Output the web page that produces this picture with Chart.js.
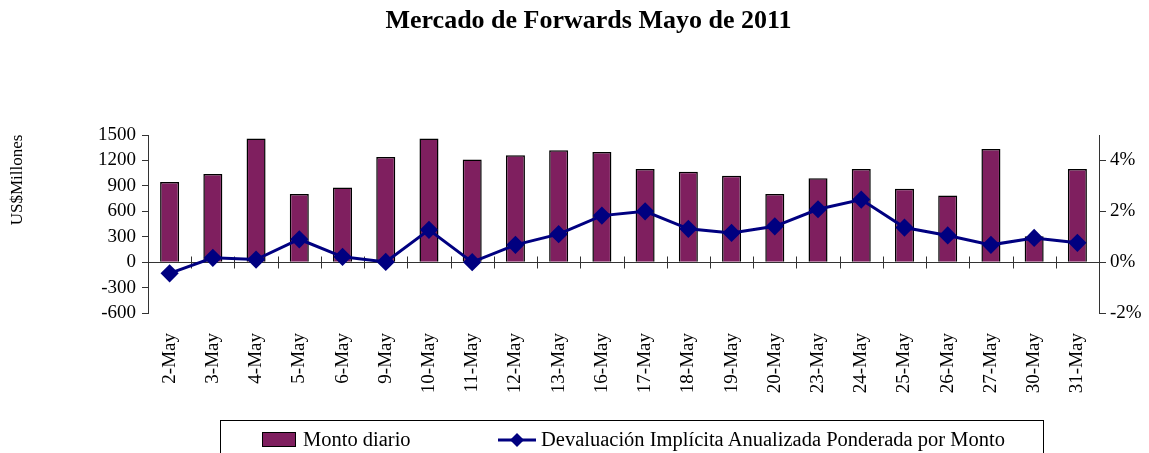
<!DOCTYPE html>
<html>
<head>
<meta charset="utf-8">
<script src="https://cdn.jsdelivr.net/npm/chart.js@4.4.1/dist/chart.umd.min.js"></script>
<style>
  html, body { margin: 0; padding: 0; background: #fff; overflow: hidden; }
  #wrap { position: relative; width: 1149px; height: 453px; }
  #title {
    position: absolute; left: 0; top: 5px; width: 1177px; text-align: center;
    font-family: 'Liberation Serif', serif; font-size: 26px; font-weight: bold; color: #000;
  }
  #ytitle {
    position: absolute; left: -43px; top: 170px; width: 120px; height: 20px; line-height: 20px;
    text-align: center; transform: rotate(-90deg);
    font-family: 'Liberation Serif', serif; font-size: 17px; color: #000; white-space: nowrap;
  }
  #legend {
    position: absolute; left: 220px; top: 420px; width: 824px; height: 50px;
    border: 1px solid #000; box-sizing: border-box;
    font-family: 'Liberation Serif', serif; font-size: 20.5px; color: #000;
  }
  #legend .item { position: absolute; top: 7px; white-space: nowrap; }
  #legend .swatch { display: inline-block; width: 32px; height: 13px; background: #7f1f5f; border: 1px solid #000; vertical-align: -1px; margin-right: 7px; }
  #legend canvas { vertical-align: -3px; margin-right: 4px; }
</style>
</head>
<body>
<div id="wrap">
  <canvas id="chart" width="1149" height="453"></canvas>
  <div id="title">Mercado de Forwards Mayo de 2011</div>
  <div id="ytitle">US$Millones</div>
  <div id="legend"></div>
</div>
<script>
const categories = ['2-May', '3-May', '4-May', '5-May', '6-May', '9-May', '10-May', '11-May',
  '12-May', '13-May', '16-May', '17-May', '18-May', '19-May', '20-May', '23-May', '24-May',
  '25-May', '26-May', '27-May', '30-May', '31-May'];

// US$ millones
const montoDiario = [945, 1040, 1460, 805, 880, 1240, 1460, 1210, 1260, 1320, 1300, 1100,
  1065, 1020, 805, 990, 1100, 865, 785, 1335, 305, 1100];

// % anualizada
const devaluacion = [-0.44, 0.17, 0.10, 0.90, 0.21, 0.01, 1.27, 0.0, 0.68, 1.10, 1.83, 2.00,
  1.31, 1.15, 1.41, 2.08, 2.46, 1.36, 1.05, 0.68, 0.95, 0.76];

const leftTicks = [-600, -300, 0, 300, 600, 900, 1200, 1500];
const rightTicks = [-2, 0, 2, 4];

const serif = 'Liberation Serif';
const barColor = '#7f1f5f';
const lineColor = '#000080';

// category axis drawn at the zero line, with ticks between categories
const zeroAxis = {
  id: 'zeroAxis',
  beforeDatasetsDraw(chart) {
    const { ctx, scales } = chart;
    const x = scales.x, y = scales.yUsd;
    const y0 = Math.round(y.getPixelForValue(0)) + 0.5;
    ctx.save();
    ctx.strokeStyle = '#333';
    ctx.lineWidth = 1;
    ctx.beginPath();
    ctx.moveTo(x.left, y0);
    ctx.lineTo(x.right, y0);
    for (let i = 1; i < categories.length; i++) {
      const px = Math.round(x.getPixelForValue(i - 0.5)) + 0.5;
      ctx.moveTo(px, y0 - 6);
      ctx.lineTo(px, y0 + 6);
    }
    ctx.stroke();
    ctx.restore();
  }
};

new Chart(document.getElementById('chart'), {
  data: {
    labels: categories,
    datasets: [
      {
        type: 'line',
        label: 'Devaluación Implícita Anualizada Ponderada por Monto',
        data: devaluacion,
        yAxisID: 'yPct',
        borderColor: lineColor,
        backgroundColor: lineColor,
        borderWidth: 3,
        pointStyle: 'rectRot',
        pointRadius: 7,
        tension: 0,
        order: 0
      },
      {
        type: 'bar',
        label: 'Monto diario',
        data: montoDiario,
        yAxisID: 'yUsd',
        backgroundColor: barColor,
        borderColor: '#000',
        borderWidth: 1.5,
        barPercentage: 0.44,
        categoryPercentage: 1,
        order: 1
      }
    ]
  },
  options: {
    responsive: false,
    animation: false,
    layout: { padding: { left: 0, right: 0, top: 135, bottom: 50 } },
    plugins: {
      legend: { display: false },
      tooltip: { enabled: false },
      title: { display: false }
    },
    scales: {
      x: {
        offset: true,
        grid: { display: false },
        border: { display: false },
        ticks: {
          autoSkip: false, minRotation: 90, maxRotation: 90, padding: 12,
          color: '#000', font: { family: serif, size: 19 }
        },
        afterFit(s) { s.height = 90; }
      },
      yUsd: {
        position: 'left',
        min: -600, max: 1500,
        afterBuildTicks(s) { s.ticks = leftTicks.map(v => ({ value: v })); },
        grid: { drawOnChartArea: false, tickLength: 6, color: '#333' },
        border: { color: '#333' },
        ticks: { autoSkip: false, color: '#000', padding: 6, font: { family: serif, size: 19 }, callback: v => String(v) },
        afterFit(s) { s.width = 148; }
      },
      yPct: {
        position: 'right',
        min: -2, max: 5,
        afterBuildTicks(s) { s.ticks = rightTicks.map(v => ({ value: v })); },
        grid: { drawOnChartArea: false, tickLength: 7, color: '#333' },
        border: { color: '#333' },
        ticks: { autoSkip: false, color: '#000', padding: 4, font: { family: serif, size: 19 }, callback: v => v + '%' },
        afterFit(s) { s.width = 50; }
      }
    }
  },
  plugins: [zeroAxis]
});

// legend
const legend = document.getElementById('legend');
legend.innerHTML =
  '<span class="item" style="left:41px"><span class="swatch"></span>Monto diario</span>' +
  '<span class="item" style="left:276px"><canvas id="lg" width="40" height="18"></canvas>Devaluación Implícita Anualizada Ponderada por Monto</span>';
const lg = document.getElementById('lg').getContext('2d');
lg.strokeStyle = lineColor; lg.lineWidth = 3;
lg.beginPath(); lg.moveTo(1, 9); lg.lineTo(39, 9); lg.stroke();
lg.fillStyle = lineColor;
lg.beginPath(); lg.moveTo(20, 2); lg.lineTo(27, 9); lg.lineTo(20, 16); lg.lineTo(13, 9); lg.closePath(); lg.fill();
</script>
</body>
</html>
